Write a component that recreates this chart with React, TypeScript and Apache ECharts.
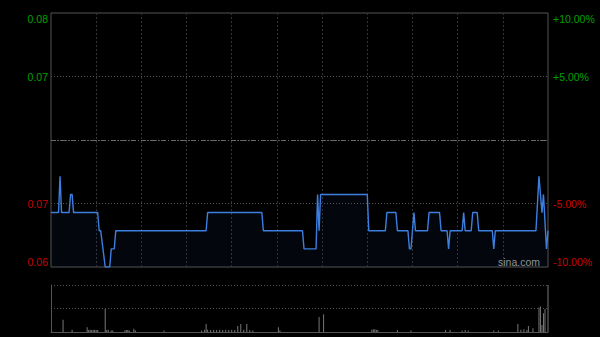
import React, { useEffect, useRef } from "react";
import * as echarts from "echarts";

const PREV_CLOSE = 0.07;

// line vertices: minute of session (0 = 9:30, 330 = 16:00), price
const priceMinutes = [
  0, 5, 6, 7, 12, 13, 14, 15, 31, 32, 33, 36, 39, 40, 42, 43, 103, 104, 140, 141,
  167, 168, 176, 177, 178, 179, 210, 211, 222, 223, 229, 230, 237, 238, 239, 241, 242,
  250, 251, 258, 259, 263, 264, 265, 273, 274, 275, 279, 280, 283, 284, 293, 294, 295,
  322, 324, 326, 327, 329, 330,
];
const priceValues = [
  0.066, 0.066, 0.068, 0.066, 0.066, 0.067, 0.067, 0.066, 0.066, 0.065, 0.065, 0.063, 0.063, 0.064, 0.064, 0.065, 0.065, 0.066, 0.066, 0.065,
  0.065, 0.064, 0.064, 0.067, 0.065, 0.067, 0.067, 0.065, 0.065, 0.066, 0.066, 0.065, 0.065, 0.064, 0.064, 0.066, 0.065,
  0.065, 0.066, 0.066, 0.065, 0.065, 0.064, 0.065, 0.065, 0.066, 0.065, 0.065, 0.066, 0.066, 0.065, 0.065, 0.064, 0.065,
  0.065, 0.068, 0.066, 0.067, 0.064, 0.065,
];

const volumeMinutes = [
  8, 14, 24, 25, 26, 27, 28, 29, 30, 31, 36, 37, 38, 40, 41, 49, 50, 51, 52, 55, 56, 75,
  100, 102, 103, 104, 106, 108, 110, 112, 114, 116, 118, 120, 122, 124, 126, 128, 130, 132, 134,
  151, 152, 178, 181, 213, 214, 215, 216, 217, 230, 239, 262, 265, 273, 275, 277, 294, 297,
  310, 312, 314, 316, 317, 320, 324, 325, 326, 327, 328, 330,
];
const volumeValues = [
  26, 5, 10, 4, 5, 4, 4, 5, 4, 4, 49, 4, 5, 3, 3, 3, 4, 4, 3, 7, 3, 3,
  3, 5, 17, 5, 4, 5, 4, 5, 4, 5, 4, 5, 4, 13, 17, 5, 17, 4, 3,
  10, 3, 32, 38, 5, 6, 6, 5, 4, 4, 3, 4, 5, 3, 4, 3, 3, 3,
  17, 5, 6, 4, 13, 8, 52, 54, 15, 40, 49, 100,
];

const pctTicks = [-10, -5, 0, 5, 10];

export default function App() {
  const ref = useRef<HTMLDivElement>(null);
  useEffect(() => {
    document.body.style.margin = "0";
    document.body.style.background = "#000";
    const chart = echarts.init(ref.current!, null, { renderer: "svg" });
    const lineData = priceMinutes.map((m, i) => [m, (priceValues[i] / PREV_CLOSE - 1) * 100]);
    const volData = volumeMinutes.map((m, i) => [m, volumeValues[i]]);
    const font = "Liberation Sans";
    chart.setOption({
      animation: false,
      backgroundColor: "#000",
      grid: [
        { left: 51, right: 52, top: 13, height: 254, show: true, borderColor: "#555", borderWidth: 1, backgroundColor: "transparent" },
        { left: 51, right: 52, top: 285, height: 47, show: false },
      ],
      xAxis: [
        {
          type: "value", gridIndex: 0, min: 0, max: 330, interval: 30,
          axisLine: { show: false }, axisTick: { show: false }, axisLabel: { show: false },
          splitLine: { show: true, showMinLine: false, showMaxLine: false, lineStyle: { color: "#333", type: [2, 2], width: 1 } },
        },
        {
          type: "value", gridIndex: 1, min: 0, max: 330, interval: 30,
          axisLine: { show: true, lineStyle: { color: "#555" } }, axisTick: { show: false }, axisLabel: { show: false },
          splitLine: { show: false },
        },
      ],
      yAxis: [
        {
          type: "value", gridIndex: 0, min: pctTicks[0], max: pctTicks[pctTicks.length - 1], interval: 5, position: "left",
          axisLine: { show: false }, axisTick: { show: false },
          axisLabel: {
            fontSize: 10.5, fontFamily: font, margin: 3,
            formatter: (v: number) => (Number(v) === 0 ? "" : (PREV_CLOSE * (1 + Number(v) / 100)).toFixed(2)),
            color: (v: any) => (Number(v) > 0 ? "#00a000" : "#cc0000"),
            verticalAlignMaxLabel: "top", verticalAlignMinLabel: "bottom",
          },
          splitLine: { show: true, showMinLine: false, showMaxLine: false, lineStyle: { color: "#555", type: [1, 2] } },
        },
        {
          type: "value", gridIndex: 0, min: pctTicks[0], max: pctTicks[pctTicks.length - 1], interval: 5, position: "right",
          axisLine: { show: false }, axisTick: { show: false },
          axisLabel: {
            fontSize: 10.5, fontFamily: font, margin: 5,
            formatter: (v: number) => {
              const n = Number(v);
              return n === 0 ? "" : (n > 0 ? "+" : "") + n.toFixed(2) + "%";
            },
            color: (v: any) => (Number(v) > 0 ? "#00a000" : "#cc0000"),
            verticalAlignMaxLabel: "top", verticalAlignMinLabel: "bottom",
          },
          splitLine: { show: false },
        },
        {
          type: "value", gridIndex: 1, min: 0, max: 100, interval: 50,
          axisLine: { show: true, lineStyle: { color: "#555" } }, axisTick: { show: false }, axisLabel: { show: false },
          splitLine: { show: true, showMinLine: false, lineStyle: { color: "#555", type: [1, 2] } },
        },
      ],
      series: [
        {
          type: "line", xAxisIndex: 0, yAxisIndex: 0, data: lineData, symbol: "none",
          lineStyle: { color: "#3d7fe0", width: 1.4 },
          areaStyle: { color: "rgba(40,80,160,0.12)", origin: "start" },
          markLine: {
            silent: true, symbol: "none", label: { show: false },
            lineStyle: { color: "#6a6a6a", type: [5, 2, 1, 2], width: 1 },
            data: [{ yAxis: 0 }],
          },
        },
        {
          type: "bar", xAxisIndex: 1, yAxisIndex: 2, data: volData, barWidth: 1,
          itemStyle: { color: "#777" },
        },
      ],
      graphic: [
        {
          type: "text", left: 498, top: 256,
          style: { text: "sina.com", fill: "#9a9a9a", font: `10.5px ${font}` },
        },
      ],
    });
    return () => chart.dispose();
  }, []);
  return <div ref={ref} style={{ width: 600, height: 337 }} />;
}
